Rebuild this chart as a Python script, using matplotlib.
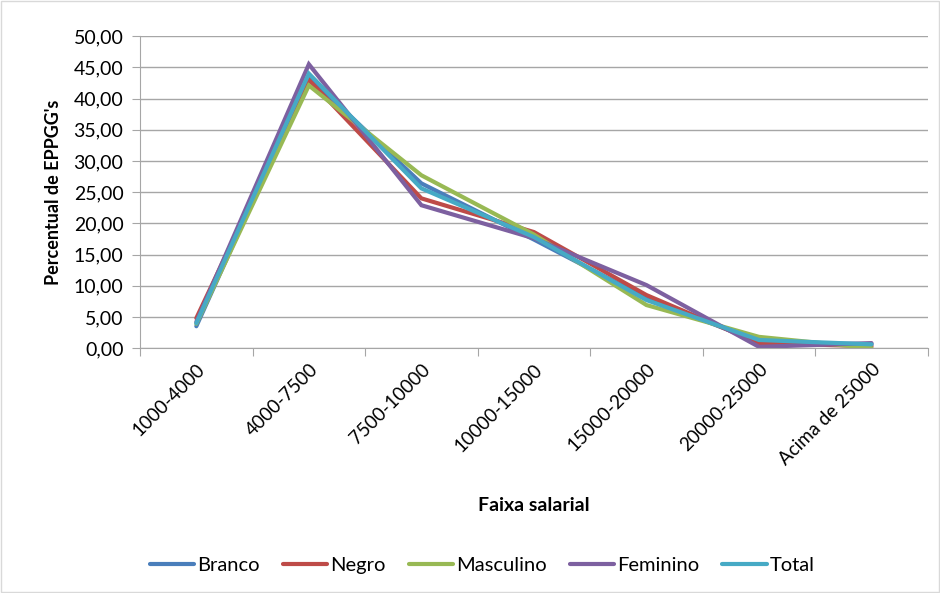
import numpy as np
import matplotlib.pyplot as plt
from matplotlib.patches import Rectangle

plt.rcParams['font.family'] = ['Lato', 'DejaVu Sans']

faixas = ['1000-4000', '4000-7500', '7500-10000', '10000-15000',
          '15000-20000', '20000-25000', 'Acima de 25000']

branco = [3.5, 43.5, 26.4, 17.4, 8.0, 1.0, 0.6]
negro = [4.8, 43.0, 24.0, 18.6, 8.5, 0.8, 0.3]
masculino = [3.9, 42.1, 27.7, 18.2, 6.9, 1.8, 0.0]
feminino = [4.2, 45.5, 22.9, 17.6, 10.1, 0.2, 0.8]
total = [4.0, 44.0, 25.6, 17.8, 7.7, 1.3, 0.6]

series = [('Branco', branco, '#4A7EBB'),
          ('Negro', negro, '#BE4B48'),
          ('Masculino', masculino, '#98B954'),
          ('Feminino', feminino, '#7D60A0'),
          ('Total', total, '#46AAC5')]

fig = plt.figure(figsize=(9.4, 5.93), dpi=100)
ax = fig.add_axes([0.149, 0.413, 0.838, 0.526])

x = np.arange(len(faixas))
for nome, vals, cor in series:
    ax.plot(x, vals, color=cor, lw=3, label=nome, solid_capstyle='round',
            solid_joinstyle='miter')

ax.set_xlim(-0.5, len(faixas) - 0.5)
ax.set_ylim(0, 50)
ax.set_yticks(np.arange(0, 51, 5))
ax.set_yticklabels([('%.2f' % v).replace('.', ',') for v in np.arange(0, 51, 5)])
ax.yaxis.grid(True, color='#A6A6A6', lw=1)
ax.set_axisbelow(True)

# ticks between categories, labels at the centres
ax.set_xticks(np.arange(-0.5, len(faixas), 1))
ax.set_xticklabels([])
ax.set_xticks(x, minor=True)
ax.set_xticklabels(faixas, minor=True, rotation=45, ha='right',
                   rotation_mode='anchor', fontsize=13.5)
ax.tick_params(axis='x', which='minor', length=0, pad=9)
ax.tick_params(axis='x', which='major', length=6, color='#A6A6A6')
ax.tick_params(axis='y', length=6, color='#A6A6A6', labelsize=14, pad=6)

for s in ['top', 'right']:
    ax.spines[s].set_visible(False)
for s in ['left', 'bottom']:
    ax.spines[s].set_color('#A6A6A6')

ax.set_ylabel("Percentual de EPPGG's", fontsize=13, fontweight='bold', labelpad=8)
fig.text(0.568, 0.148, 'Faixa salarial', ha='center', va='center',
         fontsize=14, fontweight='bold')

fig.legend(loc='center', bbox_to_anchor=(0.513, 0.047), ncol=5, frameon=False,
           fontsize=14.5, handlelength=2.2, handletextpad=0.15, columnspacing=1.15)

fig.patches.append(Rectangle((0.001, 0.001), 0.998, 0.998, transform=fig.transFigure,
                             fill=False, edgecolor='#D9D9D9', lw=1))

fig.savefig('out.png', dpi=100)
